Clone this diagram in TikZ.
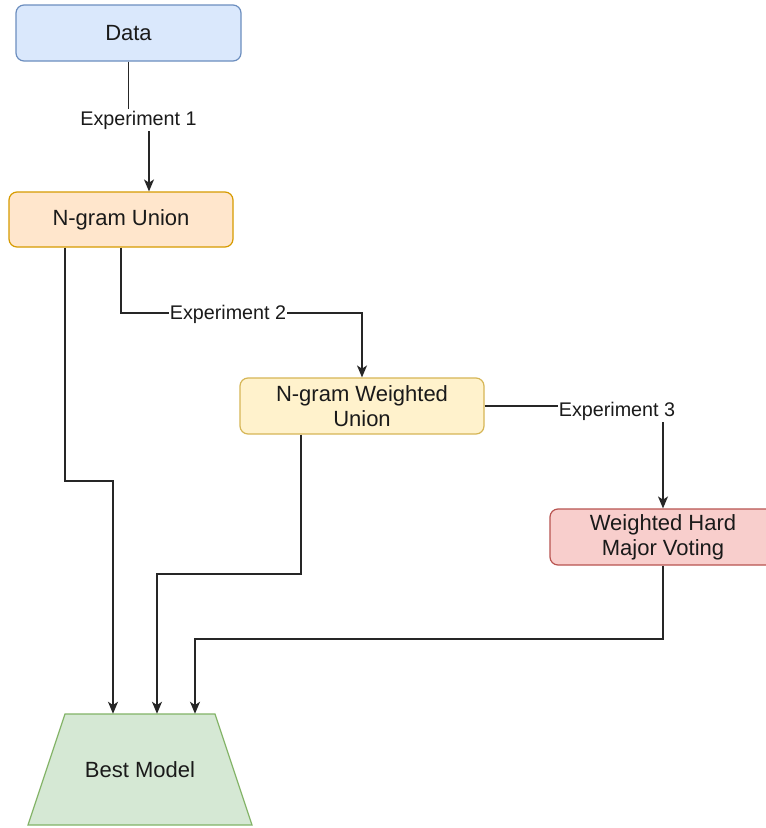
\documentclass[tikz,border=0pt]{standalone}
\usepackage{fontspec}
\setmainfont{Liberation Sans}
\usetikzlibrary{arrows.meta}
\definecolor{dataFill}{HTML}{DAE8FC}\definecolor{dataLine}{HTML}{6C8EBF}
\definecolor{nguFill}{HTML}{FFE6CC}\definecolor{nguLine}{HTML}{D79B00}
\definecolor{ngwFill}{HTML}{FFF2CC}\definecolor{ngwLine}{HTML}{D6B656}
\definecolor{whFill}{HTML}{F8CECC}\definecolor{whLine}{HTML}{B85450}
\definecolor{bestFill}{HTML}{D5E8D4}\definecolor{bestLine}{HTML}{82B366}
\definecolor{txt}{HTML}{1A1A1A}
\begin{document}
\begin{tikzpicture}[x=0.75pt,y=-0.75pt,
  box/.style={draw, rounded corners=6pt, minimum height=42pt, align=center,
    font=\fontsize{16.5}{19}\selectfont, text=txt, inner sep=0pt, line width=0.9pt},
  edge/.style={draw=black!85, line width=1.1pt,
    -{Stealth[length=9pt,width=7.5pt,inset=2.5pt]}},
  lab/.style={fill=white, inner sep=1pt, text=txt, font=\fontsize{14.8}{17}\selectfont}]
\useasboundingbox (0,0) rectangle (766,828);
\fill[white] (0,0) rectangle (766,828);

\node[box, fill=dataFill, draw=dataLine, minimum width=168.75pt] (data) at (128.5,33) {Data};
\node[box, fill=nguFill, draw=nguLine, minimum width=168pt, minimum height=41.25pt] (ngu) at (121,219.5) {N-gram Union};
\node[box, fill=ngwFill, draw=ngwLine, minimum width=183pt] (ngw) at (362,406) {N-gram Weighted\\Union};
\node[box, fill=whFill, draw=whLine, minimum width=169.5pt] (wh) at (663,537) {Weighted Hard\\Major Voting};

% Best Model trapezoid
\filldraw[fill=bestFill, draw=bestLine, line width=0.9pt]
  (28,825) -- (252,825) -- (215,714) -- (65,714) -- cycle;
\node[minimum width=168pt, minimum height=83.25pt, inner sep=0pt, text=txt,
  font=\fontsize{16.5}{19}\selectfont] (best) at (140,769.5) {Best Model};

% Experiment 1
\coordinate (e1) at (149,120);
\draw[edge] (data.south) |- (e1) -- (e1 |- ngu.north);
\node[lab] (l1) at (138.5,120) {Experiment 1};

% Experiment 2
\coordinate (b2) at (121,313);
\draw[edge] (ngu.south) -- (b2) -| (ngw.north);
\node[lab] (l2) at (228,314) {Experiment 2};

% Experiment 3
\draw[edge] (ngw.east) -| (wh.north);
\node[lab] (l3) at (617,411) {Experiment 3};

% to Best Model
\coordinate (p1) at (65,481); \coordinate (q1) at (113,481);
\draw[edge] (ngu.south -| p1) -- (p1) -- (q1) -- (q1 |- best.north);
\coordinate (p2) at (301,574); \coordinate (q2) at (157,574);
\draw[edge] (ngw.south -| p2) -- (p2) -- (q2) -- (q2 |- best.north);
\coordinate (q3) at (195,639);
\draw[edge] (wh.south) |- (q3) -- (q3 |- best.north);
\end{tikzpicture}
\end{document}
